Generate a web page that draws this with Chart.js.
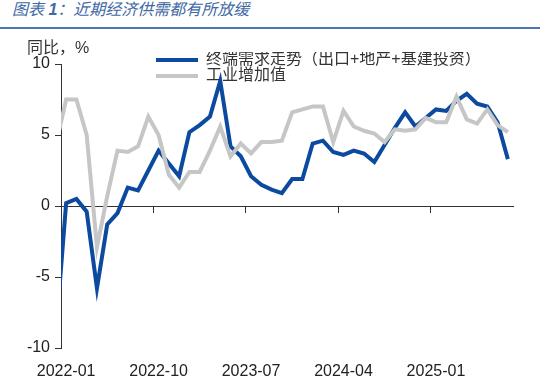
<!DOCTYPE html>
<html><head><meta charset="utf-8">
<script src="https://cdn.jsdelivr.net/npm/chart.js@4/dist/chart.umd.min.js"></script>
<style>
html,body{margin:0;padding:0;background:#fff;}
#wrap{position:relative;width:540px;height:385px;overflow:hidden;background:#fff;}
#title{position:absolute;left:12px;top:0;font:italic 16px/20px "Liberation Sans","Noto Sans CJK SC",sans-serif;color:#4169a4;white-space:nowrap;}
#rule{position:absolute;left:0;top:27px;width:540px;height:2px;background:#4d78ad;}
#unit{position:absolute;left:27px;top:38px;font:16px/20px "Liberation Sans","Noto Sans CJK SC",sans-serif;color:#333;white-space:nowrap;}
canvas{position:absolute;left:0;top:0;}
</style></head>
<body><div id="wrap"><div id="title">图表 <b>1</b>：近期经济供需都有所放缓</div><div id="rule"></div><canvas id="c" width="540" height="385"></canvas><div id="unit">同比，%</div></div>
<script>
const categories = ['2021-12',
  '2022-01','2022-02','2022-03','2022-04','2022-05','2022-06','2022-07','2022-08','2022-09','2022-10','2022-11','2022-12',
  '2023-01','2023-02','2023-03','2023-04','2023-05','2023-06','2023-07','2023-08','2023-09','2023-10','2023-11','2023-12',
  '2024-01','2024-02','2024-03','2024-04','2024-05','2024-06','2024-07','2024-08','2024-09','2024-10','2024-11','2024-12',
  '2025-01','2025-02','2025-03','2025-04','2025-05','2025-06','2025-07','2025-08'];
const demandSeries = [-9.0,
  0.2, 0.5, -0.4, -5.8, -1.3, -0.5, 1.3, 1.1, 2.5, 3.9, 3.0, 2.1,
  5.2, 5.7, 6.3, 8.8, 4.2, 3.5, 2.1, 1.5, 1.15, 0.9, 1.9, 1.9,
  4.4, 4.6, 3.8, 3.6, 3.9, 3.7, 3.1, 4.3, 5.5, 6.6, 5.6, 6.2,
  6.8, 6.7, 7.4, 7.9, 7.2, 7.0, 5.9, 3.3];
const industrySeries = [4.3,
  7.5, 7.5, 5.0, -2.9, 0.7, 3.9, 3.8, 4.2, 6.3, 5.0, 2.2, 1.3,
  2.4, 2.4, 3.9, 5.6, 3.5, 4.4, 3.7, 4.5, 4.5, 4.6, 6.6, 6.8,
  7.0, 7.0, 4.5, 6.7, 5.6, 5.3, 5.1, 4.5, 5.4, 5.3, 5.4, 6.2,
  5.9, 5.9, 7.7, 6.1, 5.8, 6.8, 5.7, 5.2];
const seriesNames = ['终端需求走势（出口+地产+基建投资）', '工业增加值'];
const xTickLabels = ['2022-01','2022-10','2023-07','2024-04','2025-01'];
const yMin = -10, yMax = 10, yStep = 5;

const FONT = '"Liberation Sans", Arial, "Noto Sans CJK SC", sans-serif';
const BLUE = '#0b4a9f';
const GRAY = '#c6c6c6';
const AXIS = '#333333';
Chart.defaults.font.family = FONT;
Chart.defaults.color = '#222';

const legendPlace = {
  id: 'legendPlace',
  afterLayout(chart) {
    const l = chart.legend;
    if (!l) return;
    l.left = 156; l.top = 52; l.right = 540; l.bottom = 150;
    l.width = l.right - l.left; l.height = l.bottom - l.top;
  }
};

new Chart(document.getElementById('c'), {
  type: 'line',
  data: {
    labels: categories,
    datasets: [
      { label: seriesNames[0], data: demandSeries, borderColor: BLUE, backgroundColor: BLUE,
        borderWidth: 4, pointRadius: 0, tension: 0, xAxisID: 'x', yAxisID: 'y', order: 1 },
      { label: seriesNames[1], data: industrySeries, borderColor: GRAY, backgroundColor: GRAY,
        borderWidth: 4, pointRadius: 0, tension: 0, xAxisID: 'x', yAxisID: 'y', order: 0 }
    ]
  },
  options: {
    responsive: false, animation: false, devicePixelRatio: 1,
    layout: { padding: { top: 64, right: 27, left: 0, bottom: 0 } },
    plugins: {
      tooltip: { enabled: false },
      title: { display: false },
      legend: {
        position: 'chartArea', align: 'start',
        labels: {
          boxWidth: 42, boxHeight: 4, padding: 0, color: '#333',
          font: { family: FONT, size: 16, lineHeight: 1.42 },
          sort: (a, b) => a.datasetIndex - b.datasetIndex,
          generateLabels(chart) {
            const items = Chart.defaults.plugins.legend.labels.generateLabels(chart);
            items.forEach(it => { it.lineWidth = 0; it.fillStyle = it.strokeStyle; });
            return items;
          }
        }
      }
    },
    scales: {
      x: {
        type: 'category', position: 'bottom', min: '2022-01', offset: true,
        grid: { display: false }, border: { display: false },
        ticks: {
          autoSkip: false, maxRotation: 0, minRotation: 0, padding: 6, color: '#222',
          font: { family: FONT, size: 16 },
          callback(value) { const l = this.getLabelForValue(value); return xTickLabels.includes(l) ? l : ''; }
        },
        afterFit(s) { s.height = 37; }
      },
      x2: {
        type: 'category', position: { y: 0 }, min: '2022-01', offset: true,
        grid: {
          display: true, drawOnChartArea: false, drawTicks: true, tickLength: 6, offset: true, tickWidth: 1,
          tickColor: (c) => (c.tick && xTickLabels.includes(categories[c.tick.value])) ? AXIS : 'rgba(0,0,0,0)'
        },
        border: { display: true, color: AXIS, width: 1 },
        ticks: { display: false }
      },
      y: {
        min: yMin, max: yMax,
        ticks: { stepSize: yStep, padding: 5, color: '#222', font: { family: FONT, size: 16 } },
        grid: { display: true, drawOnChartArea: false, drawTicks: true, tickLength: 6, tickColor: AXIS },
        border: { display: true, color: AXIS, width: 1 },
        afterFit(s) { s.width = 61; }
      }
    }
  },
  plugins: [legendPlace]
});
</script>
</body></html>
